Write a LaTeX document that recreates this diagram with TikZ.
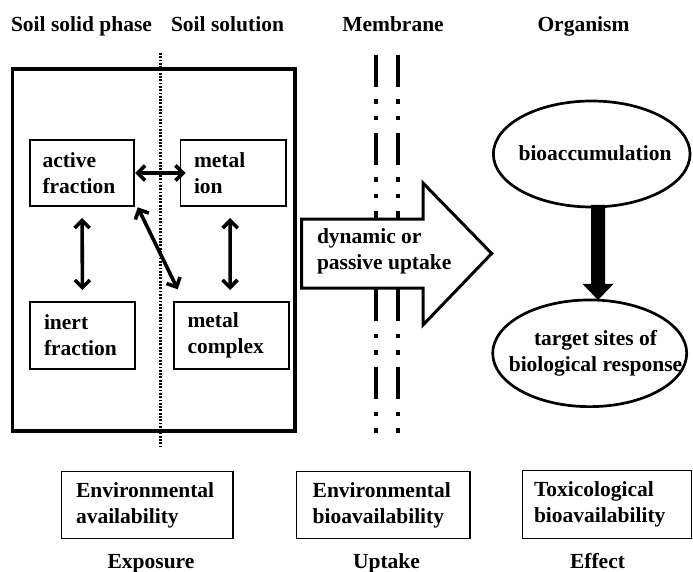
\documentclass[tikz,border=0pt]{standalone}
\usepackage{fontspec}
\setmainfont{Liberation Serif}
\usetikzlibrary{arrows.meta,shapes.geometric,calc}
\begin{document}
\begin{tikzpicture}[x=1pt,y=-1pt,
  every node/.append style={font=\fontsize{21.5}{26}\selectfont\bfseries, inner sep=0pt, outer sep=0pt},
  tbox/.style={draw, line width=1.3pt, align=left, anchor=north west, inner ysep=0pt},
  ell/.style={draw, ellipse, line width=2.7pt},
  dbl/.style={line width=3.6pt, >={Straight Barb[length=7.5pt,width=15pt]}, <->},
  dotline/.style={line width=2.6pt, dash pattern=on 1.8pt off 1.5pt},
  membr/.style={line width=3.8pt, dash pattern=on 32pt off 12.5pt on 4.5pt off 12pt on 4.5pt off 12.5pt},
  bigarrow/.style={draw, fill=white, line width=3pt},
  thickbox/.style={draw, line width=3.2pt, anchor=north west}
]
\useasboundingbox (0,0) rectangle (693,572);

% headers
\node[anchor=base] (h1) at (81.5,31.7) {Soil solid phase};
\node[anchor=base] (h2) at (227.5,31.7) {Soil solution};
\node[anchor=base] (h3) at (393,31.7) {Membrane};
\node[anchor=base] (h4) at (583.5,31.7) {Organism};

% soil compartment
\node[thickbox, minimum width=282.3pt, minimum height=362pt] (soil) at (12.7,69) {};
\coordinate (dt) at (160.7,53);
\coordinate (db) at (160.7,447);
\draw[dotline] (dt) -- (db);

\node[tbox, text width=79pt, inner xsep=12.5pt, minimum height=66pt] (act) at (30,140) {active\\fraction};
\node[tbox, text width=78.5pt, inner xsep=13.5pt, minimum height=66pt] (ion) at (180.5,140) {metal\\ion};
\node[tbox, text width=77pt, inner xsep=14pt, minimum height=67pt] (inert) at (30,302) {inert\\fraction};
\node[tbox, text width=88pt, inner xsep=13.5pt, minimum height=67pt] (mcx) at (174,302) {metal\\complex};

\draw[dbl, shorten <=1pt, shorten >=-5pt] (act.east) -- (ion.west);
\draw[dbl, shorten <=12pt, shorten >=12pt] (act.south) -- (inert.north);
\draw[dbl, shorten <=12pt, shorten >=12pt] ($(ion.south)+(-3,0)$) -- ($(mcx.north)+(-1.5,0)$);
\draw[dbl] ($(act.south east)+(3.7,1.3)$) -- ($(mcx.north west)+(3.7,-12.7)$);

% membrane
\coordinate (m1t) at (376,55);
\coordinate (m1b) at (376,436);
\coordinate (m2t) at (397.7,55);
\coordinate (m2b) at (397.7,436);
\draw[membr] (m1t) -- (m1b);
\draw[membr] (m2t) -- (m2b);

% uptake arrow
\draw[bigarrow] (301.7,219) -- (423,219) -- (423,183) -- (491.7,253.5) -- (423,325) -- (423,288) -- (301.7,288) -- cycle;
\node[anchor=west, align=left] (upt) at (317,251) {dynamic or\\passive uptake};

% organism
\node[ell, minimum width=196.7pt, minimum height=106pt] (bio) at (591.7,154) {};
\node (biot) at (595,153) {bioaccumulation};
\node[ell, minimum width=194pt, minimum height=106.7pt] (tgt) at (589.7,353.3) {};
\node[align=center] (tgtt) at (595.5,353) {target sites of\\biological response};

\coordinate (ax) at (598,0);
\coordinate (as) at (bio.south -| ax);
\coordinate (ae) at (tgt.north -| ax);
\fill ($(as)+(-7,-2)$) -- ($(as)+(7,-2)$) -- ($(ae)+(7,-16)$) -- ($(ae)+(15.5,-16)$) -- (ae)
  -- ($(ae)+(-15.5,-16)$) -- ($(ae)+(-7,-16)$) -- cycle;

% bottom boxes
\node[tbox, text width=142.7pt, inner xsep=14.3pt, minimum height=66.6pt] (b1) at (61.7,471.7) {Environmental\\availability};
\node[tbox, text width=141.3pt, inner xsep=16pt, minimum height=66.6pt] (b2) at (296.7,471.7) {Environmental\\bioavailability};
\node[tbox, text width=146.4pt, inner xsep=11.3pt, minimum height=67.6pt] (b3) at (522.7,470.7) {Toxicological\\bioavailability};

\node[anchor=base] (f1) at (151,568) {Exposure};
\node[anchor=base] (f2) at (386.5,568) {Uptake};
\node[anchor=base] (f3) at (597.5,568) {Effect};
\end{tikzpicture}
\end{document}
